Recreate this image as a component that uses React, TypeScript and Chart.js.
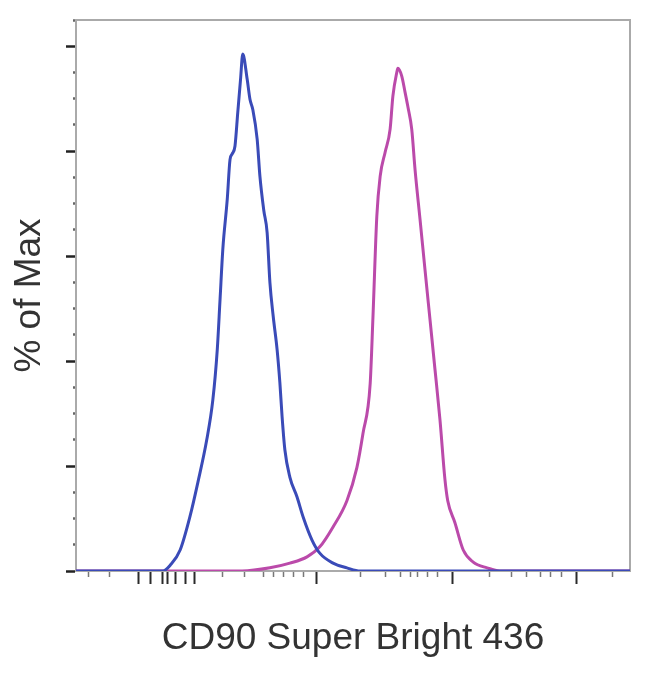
import React, { useEffect, useRef } from "react";
import { Chart, registerables } from "chart.js";

Chart.register(...registerables);

// Fluorescence channel (display units 0–1000 along the biexponential axis)
const blueX = [0, 157, 170, 188, 206, 220, 236, 247, 255, 260, 265, 273, 278, 282, 287, 292, 297, 301, 309, 314, 319, 327, 332, 339, 345, 350, 356, 363, 368, 372, 377, 386, 399, 410, 426, 440, 464, 489, 513, 1000];
const blueY = [0, 0, 1.1, 4.0, 10.5, 16.9, 25.0, 32.6, 42.2, 51.7, 61.3, 70.8, 78.4, 79.5, 81.0, 87.4, 93.7, 98.5, 93.7, 89.9, 88.0, 82.3, 75.2, 68.7, 64.5, 55.0, 48.5, 42.2, 35.9, 29.4, 23.1, 17.9, 14.1, 10.3, 5.9, 3.4, 1.5, 0.6, 0, 0];

const pinkX = [0, 300, 350, 386, 417, 440, 464, 489, 507, 518, 531, 536, 543, 549, 558, 567, 572, 579, 581, 588, 594, 599, 606, 612, 621, 630, 639, 648, 657, 666, 671, 684, 699, 717, 742, 765, 1000];
const pinkY = [0, 0, 0.6, 1.5, 2.7, 4.6, 8.4, 13.4, 19.7, 26.2, 35.7, 48.3, 67.6, 75.2, 79.8, 84.2, 90.5, 95.0, 95.8, 94.3, 91.2, 88.5, 84.2, 76.5, 67.0, 57.4, 47.9, 38.4, 28.8, 17.4, 13.4, 9.2, 4.0, 1.7, 0.6, 0, 0];

// Axis tick marks (labels are not shown in the reference)
const xMajorTicks = [112, 135, 157, 166, 179, 197, 213, 435, 679, 904];
const xMinorTicks = [22, 61, 265, 305, 338, 356, 374, 392, 410, 513, 558, 585, 603, 617, 635, 652, 747, 787, 814, 838, 856, 877, 969];
const yMajorTicks = [0, 20, 40, 60, 80, 100];
const yMinorTicks = [5, 10, 15, 25, 30, 35, 45, 50, 55, 65, 70, 75, 85, 90, 95, 105];

const xTitle = "CD90 Super Bright 436";
const yTitle = "% of Max";

const FONT = "'Liberation Sans', Arial, Helvetica, sans-serif";
const FRAME = "#aaaaaa";

export default function App() {
  const ref = useRef<HTMLCanvasElement | null>(null);

  useEffect(() => {
    if (!ref.current) return;
    const blue = blueX.map((x, i) => ({ x, y: blueY[i] }));
    const pink = pinkX.map((x, i) => ({ x, y: pinkY[i] }));
    const setTicks = (list: number[]) => (s: any) => {
      s.ticks = list.map((v) => ({ value: v }));
    };
    const chart = new Chart(ref.current, {
      type: "line",
      data: {
        datasets: [
          {
            label: "CD90",
            data: blue,
            borderColor: "#3a4bb8",
            borderWidth: 3,
            pointRadius: 0,
            cubicInterpolationMode: "monotone",
            fill: false,
          },
          {
            label: "Control",
            data: pink,
            borderColor: "#bb4aaa",
            borderWidth: 3,
            pointRadius: 0,
            cubicInterpolationMode: "monotone",
            fill: false,
          },
        ],
      },
      options: {
        animation: false,
        responsive: false,
        layout: { padding: { left: 0, right: 12, top: 12, bottom: 0 } },
        plugins: { legend: { display: false }, tooltip: { enabled: false } },
        scales: {
          x: {
            type: "linear",
            axis: "x",
            position: "bottom",
            min: 0,
            max: 1000,
            afterBuildTicks: setTicks(xMajorTicks),
            ticks: { display: false, autoSkip: false },
            grid: { drawOnChartArea: false, drawTicks: true, tickLength: 13, tickColor: "#2a2a2a", tickWidth: 2 },
            border: { display: true, color: FRAME, width: 2 },
            title: {
              display: true,
              text: xTitle,
              color: "#333333",
              font: { family: FONT, size: 37, weight: "normal" },
              padding: { top: 32.8, bottom: 10.8 },
            },
          },
          xMinor: {
            type: "linear",
            axis: "x",
            position: { y: 0 },
            min: 0,
            max: 1000,
            afterBuildTicks: setTicks(xMinorTicks),
            ticks: { display: false, autoSkip: false },
            grid: { drawOnChartArea: false, drawTicks: true, tickLength: 6, tickColor: "#777777", tickWidth: 1.5 },
            border: { display: false },
          },
          xTop: {
            type: "linear",
            axis: "x",
            position: "top",
            min: 0,
            max: 1000,
            ticks: { display: false },
            grid: { display: false, drawTicks: false },
            border: { display: true, color: FRAME, width: 2 },
          },
          y: {
            type: "linear",
            axis: "y",
            position: "left",
            min: 0,
            max: 105,
            afterBuildTicks: setTicks(yMajorTicks),
            ticks: { display: false, autoSkip: false },
            grid: { drawOnChartArea: false, drawTicks: true, tickLength: 10, tickColor: "#222222", tickWidth: 2.5 },
            border: { display: true, color: FRAME, width: 2 },
            title: {
              display: true,
              text: yTitle,
              color: "#333333",
              font: { family: FONT, size: 37, weight: "normal" },
              padding: { top: 0, bottom: 13.6 },
            },
          },
          yMinor: {
            type: "linear",
            axis: "y",
            position: { x: 0 },
            min: 0,
            max: 105,
            afterBuildTicks: setTicks(yMinorTicks),
            ticks: { display: false, autoSkip: false },
            grid: { drawOnChartArea: false, drawTicks: true, tickLength: 3, tickColor: "#666666", tickWidth: 2.5 },
            border: { display: false },
          },
          yRight: {
            type: "linear",
            axis: "y",
            position: "right",
            min: 0,
            max: 105,
            ticks: { display: false },
            grid: { display: false, drawTicks: false },
            border: { display: true, color: FRAME, width: 2 },
          },
        },
      } as any,
    });
    return () => chart.destroy();
  }, []);

  return (
    <div style={{ width: 634, height: 664, background: "#ffffff" }}>
      <canvas ref={ref} width={634} height={664} style={{ display: "block" }} />
    </div>
  );
}
